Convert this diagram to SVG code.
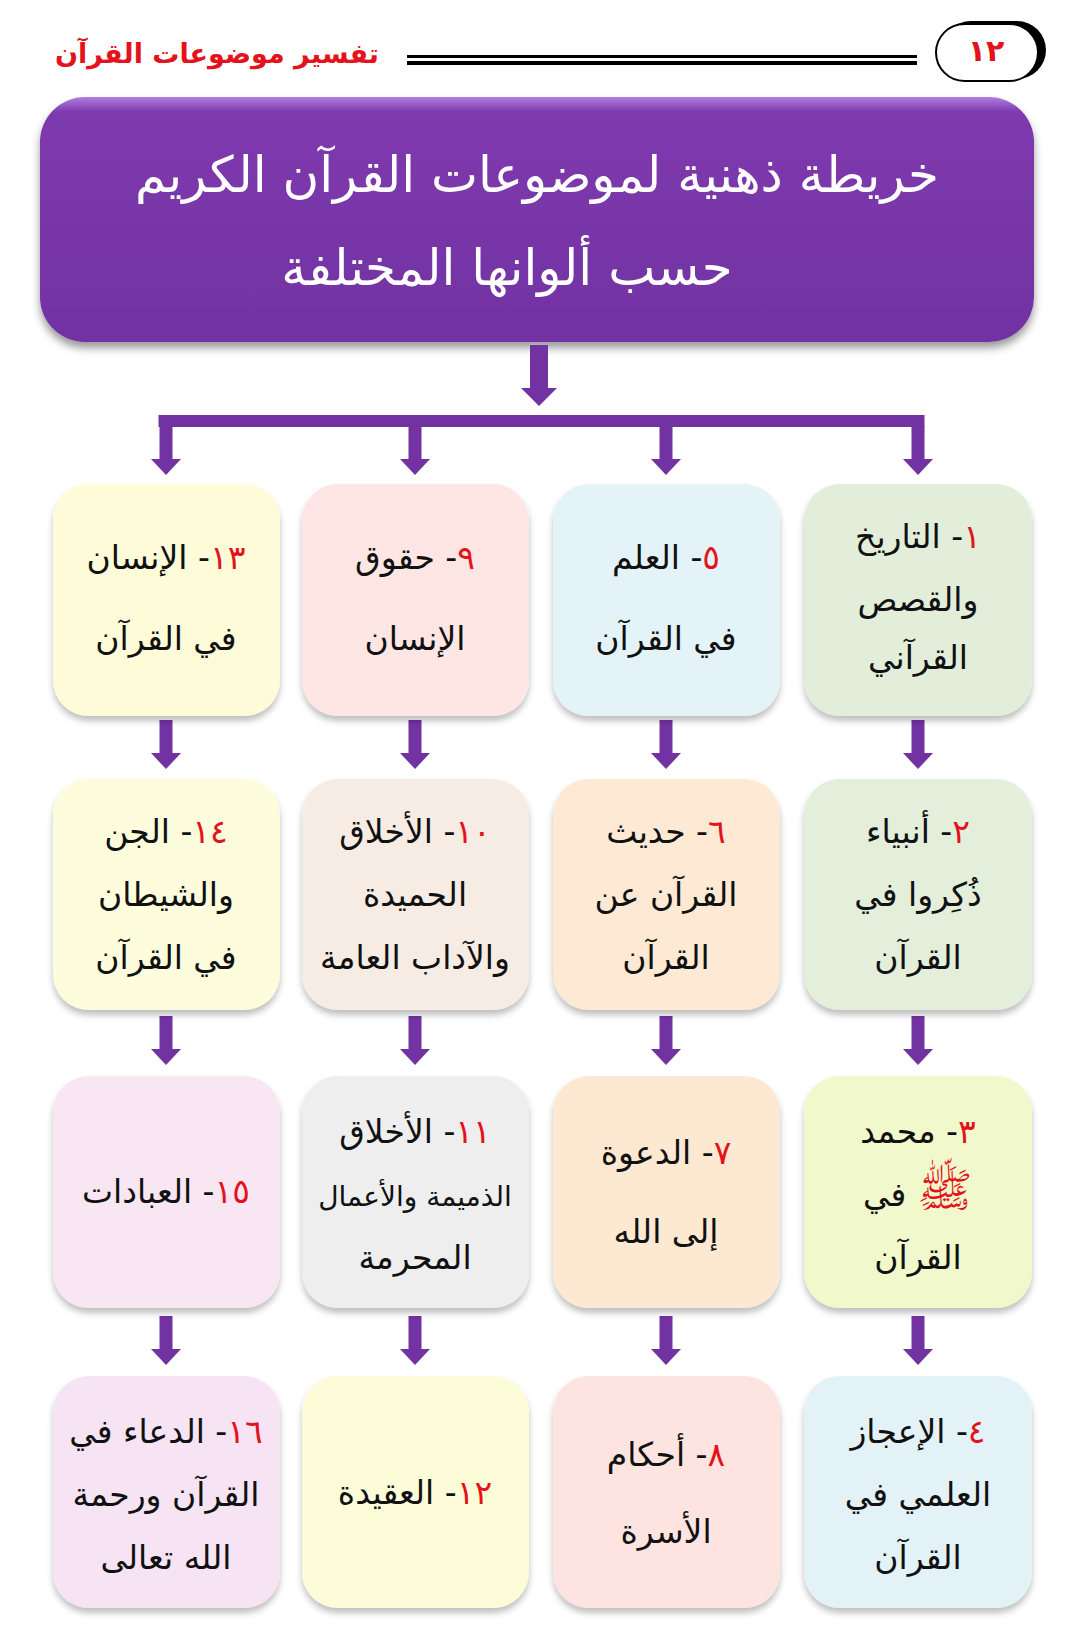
<svg xmlns="http://www.w3.org/2000/svg" width="1080" height="1651" viewBox="0 0 1080 1651">
<style>
.t{font-family:"DejaVu Sans",sans-serif;font-size:33px;fill:#111;text-anchor:middle;direction:rtl}
.n{fill:#e3121b}
.arr{fill:#7232a2}
.box{filter:url(#sh)}
.hd{font-family:"DejaVu Sans",sans-serif;font-weight:bold;text-anchor:middle;direction:rtl;fill:#e3121b}
.ttl{font-family:"DejaVu Sans",sans-serif;font-size:50px;fill:#fff;text-anchor:middle;direction:rtl}
</style>
<defs>
<filter id="sh" x="-10%" y="-10%" width="120%" height="125%"><feDropShadow dx="0" dy="5" stdDeviation="3" flood-color="#000" flood-opacity="0.25"/></filter>
<filter id="sh2" x="-5%" y="-10%" width="110%" height="125%"><feDropShadow dx="0" dy="6" stdDeviation="4" flood-color="#000" flood-opacity="0.4"/></filter>
<linearGradient id="pg" x1="0" y1="0" x2="0" y2="1"><stop offset="0" stop-color="#b07ee0"/><stop offset="0.06" stop-color="#7e3aae"/><stop offset="1" stop-color="#7232a2"/></linearGradient>
<path id="da" d="M-6.5,0H6.5V33H15L0,49L-15,33H-6.5Z"/>
</defs>
<rect width="1080" height="1651" fill="#fff"/>
<g id="header">
<text class="hd" x="217" y="63" font-size="27">تفسير موضوعات القرآن</text>
<rect x="407" y="55" width="510" height="3" fill="#000"/>
<rect x="407" y="61" width="510" height="4" fill="#000"/>
<rect x="942" y="21" width="104" height="58" rx="29" fill="#000"/>
<rect x="936" y="24" width="102" height="57" rx="28.5" fill="#fff" stroke="#000" stroke-width="2"/>
<text class="hd" x="986" y="61" font-size="30">١٢</text>
</g>
<g id="title">
<rect x="40" y="97" width="994" height="245" rx="45" fill="url(#pg)" filter="url(#sh2)"/>
<text class="ttl" x="537" y="192">خريطة ذهنية لموضوعات القرآن الكريم</text>
<text class="ttl" x="507" y="285">حسب ألوانها المختلفة</text>
</g>
<g id="connectors">
<path class="arr" d="M530,345H548V388H557L539,406L521,388H530Z"/>
<rect class="arr" x="158.5" y="415" width="766" height="12"/>
<use href="#da" class="arr" x="166" y="426"/>
<use href="#da" class="arr" x="415" y="426"/>
<use href="#da" class="arr" x="666" y="426"/>
<use href="#da" class="arr" x="918" y="426"/>
<use href="#da" class="arr" x="166" y="720"/>
<use href="#da" class="arr" x="415" y="720"/>
<use href="#da" class="arr" x="666" y="720"/>
<use href="#da" class="arr" x="918" y="720"/>
<use href="#da" class="arr" x="166" y="1016"/>
<use href="#da" class="arr" x="415" y="1016"/>
<use href="#da" class="arr" x="666" y="1016"/>
<use href="#da" class="arr" x="918" y="1016"/>
<use href="#da" class="arr" x="166" y="1316"/>
<use href="#da" class="arr" x="415" y="1316"/>
<use href="#da" class="arr" x="666" y="1316"/>
<use href="#da" class="arr" x="918" y="1316"/>
</g>
<g id="n1"><rect class="box" x="804" y="484" width="228" height="232" rx="36" fill="#e2eed9"/>
<text class="t" x="918" y="548"><tspan class="n">١</tspan>- التاريخ</text>
<text class="t" x="918" y="611">والقصص</text>
<text class="t" x="918" y="669">القرآني</text></g>
<g id="n5"><rect class="box" x="553" y="484" width="227" height="232" rx="36" fill="#e4f3f8"/>
<text class="t" x="666" y="569"><tspan class="n">٥</tspan>- العلم</text>
<text class="t" x="666" y="650">في القرآن</text></g>
<g id="n9"><rect class="box" x="302" y="484" width="227" height="232" rx="36" fill="#fde6e3"/>
<text class="t" x="415" y="569"><tspan class="n">٩</tspan>- حقوق</text>
<text class="t" x="415" y="650">الإنسان</text></g>
<g id="n13"><rect class="box" x="53" y="484" width="227" height="232" rx="36" fill="#fdfbd8"/>
<text class="t" x="166" y="569"><tspan class="n">١٣</tspan>- الإنسان</text>
<text class="t" x="166" y="650">في القرآن</text></g>
<g id="n2"><rect class="box" x="804" y="779" width="228" height="231" rx="36" fill="#e3eedb"/>
<text class="t" x="918" y="843"><tspan class="n">٢</tspan>- أنبياء</text>
<text class="t" x="918" y="906">ذُكِروا في</text>
<text class="t" x="918" y="969">القرآن</text></g>
<g id="n6"><rect class="box" x="553" y="779" width="227" height="231" rx="36" fill="#fde9d4"/>
<text class="t" x="666" y="843"><tspan class="n">٦</tspan>- حديث</text>
<text class="t" x="666" y="906">القرآن عن</text>
<text class="t" x="666" y="969">القرآن</text></g>
<g id="n10"><rect class="box" x="302" y="779" width="227" height="231" rx="36" fill="#f6ece4"/>
<text class="t" x="415" y="843"><tspan class="n">١٠</tspan>- الأخلاق</text>
<text class="t" x="415" y="906">الحميدة</text>
<text class="t" x="415" y="969">والآداب العامة</text></g>
<g id="n14"><rect class="box" x="53" y="779" width="227" height="231" rx="36" fill="#fdfcdc"/>
<text class="t" x="166" y="843"><tspan class="n">١٤</tspan>-  الجن</text>
<text class="t" x="166" y="906">والشيطان</text>
<text class="t" x="166" y="969">في القرآن</text></g>
<g id="n3"><rect class="box" x="804" y="1076" width="228" height="232" rx="36" fill="#f0f8cc"/>
<text class="t" x="918" y="1143"><tspan class="n">٣</tspan>- محمد</text>
<text class="t" x="918" y="1206"><tspan class="n" font-size="46">ﷺ</tspan> في</text>
<text class="t" x="918" y="1269">القرآن</text></g>
<g id="n7"><rect class="box" x="553" y="1076" width="227" height="232" rx="36" fill="#fde9d2"/>
<text class="t" x="666" y="1164"><tspan class="n">٧</tspan>- الدعوة</text>
<text class="t" x="666" y="1243">إلى الله</text></g>
<g id="n11"><rect class="box" x="302" y="1076" width="227" height="232" rx="36" fill="#eeeeee"/>
<text class="t" x="415" y="1143"><tspan class="n">١١</tspan>- الأخلاق</text>
<text class="t" x="415" y="1206" style="font-size:28px">الذميمة والأعمال</text>
<text class="t" x="415" y="1269">المحرمة</text></g>
<g id="n15"><rect class="box" x="53" y="1076" width="227" height="232" rx="36" fill="#f9e6f3"/>
<text class="t" x="166" y="1203"><tspan class="n">١٥</tspan>- العبادات</text></g>
<g id="n4"><rect class="box" x="804" y="1376" width="228" height="232" rx="36" fill="#e3f2f7"/>
<text class="t" x="918" y="1443"><tspan class="n">٤</tspan>- الإعجاز</text>
<text class="t" x="918" y="1506">العلمي في</text>
<text class="t" x="918" y="1569">القرآن</text></g>
<g id="n8"><rect class="box" x="553" y="1376" width="227" height="232" rx="36" fill="#fde4e0"/>
<text class="t" x="666" y="1466"><tspan class="n">٨</tspan>- أحكام</text>
<text class="t" x="666" y="1543">الأسرة</text></g>
<g id="n12"><rect class="box" x="302" y="1376" width="227" height="232" rx="36" fill="#fdfcd9"/>
<text class="t" x="415" y="1504"><tspan class="n">١٢</tspan>- العقيدة</text></g>
<g id="n16"><rect class="box" x="53" y="1376" width="227" height="232" rx="36" fill="#f6e3f3"/>
<text class="t" x="166" y="1443"><tspan class="n">١٦</tspan>- الدعاء في</text>
<text class="t" x="166" y="1506">القرآن ورحمة</text>
<text class="t" x="166" y="1569">الله تعالى</text></g>
</svg>
